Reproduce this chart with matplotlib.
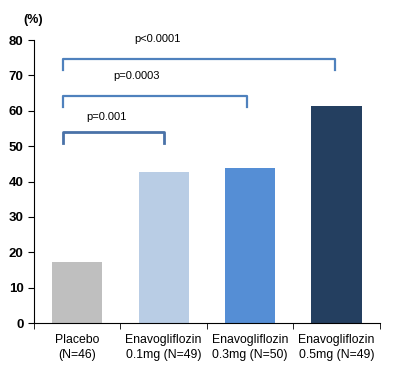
import matplotlib.pyplot as plt
import numpy as np

labels = ["Placebo\n(N=46)", "Enavogliflozin\n0.1mg (N=49)",
          "Enavogliflozin\n0.3mg (N=50)", "Enavogliflozin\n0.5mg (N=49)"]
values = [17.2, 42.7, 43.8, 61.3]
colors = ["#bfbfbf", "#b9cde5", "#558ed5", "#243f60"]

# significance brackets
pvals = ["p=0.001", "p=0.0003", "p<0.0001"]
br_end = [1.0, 1.96, 2.98]
br_y = [54.0, 64.1, 74.6]
txt_x = [0.34, 0.69, 0.93]
txt_y = [58.2, 69.8, 80.2]

fig = plt.figure(figsize=(3.97, 3.71), dpi=100)
ax = fig.add_axes([0.0856, 0.129, 0.871, 0.763])

x = np.arange(len(values))
ax.bar(x, values, width=0.58, color=colors)

for i in range(3):
    c = "#4a72a8" if i == 0 else "#4f81bd"
    ax.plot([-0.17, -0.17, br_end[i], br_end[i]],
            [br_y[i] - 3, br_y[i], br_y[i], br_y[i] - 3],
            color=c, lw=2 if i == 0 else 1.6, clip_on=False)
    ax.text(txt_x[i], txt_y[i], pvals[i], ha="center", va="center",
            fontsize=8, family="Liberation Sans", clip_on=False)

ax.set_xlim(-0.5, 3.5)
ax.set_ylim(0, 80)
ax.set_yticks(range(0, 81, 10))
ax.set_yticklabels([str(v) for v in range(0, 81, 10)], fontweight="bold",
                   fontsize=9.5, family="Liberation Sans")
ax.set_xticks(x)
ax.set_xticklabels(labels, fontsize=8.8, family="Liberation Sans",
                   linespacing=1.25)
ax.set_xticks(np.arange(-0.5, 4, 1), minor=True)
ax.tick_params(axis="x", which="major", length=0, pad=8)
ax.tick_params(axis="x", which="minor", length=4, direction="out")
ax.tick_params(axis="y", length=4, direction="out")
for s in ["top", "right"]:
    ax.spines[s].set_visible(False)

fig.text(0.06, 0.945, "(%)", fontsize=9, fontweight="bold",
         family="Liberation Sans", ha="left", va="center")

plt.savefig("out.png", dpi=100)
